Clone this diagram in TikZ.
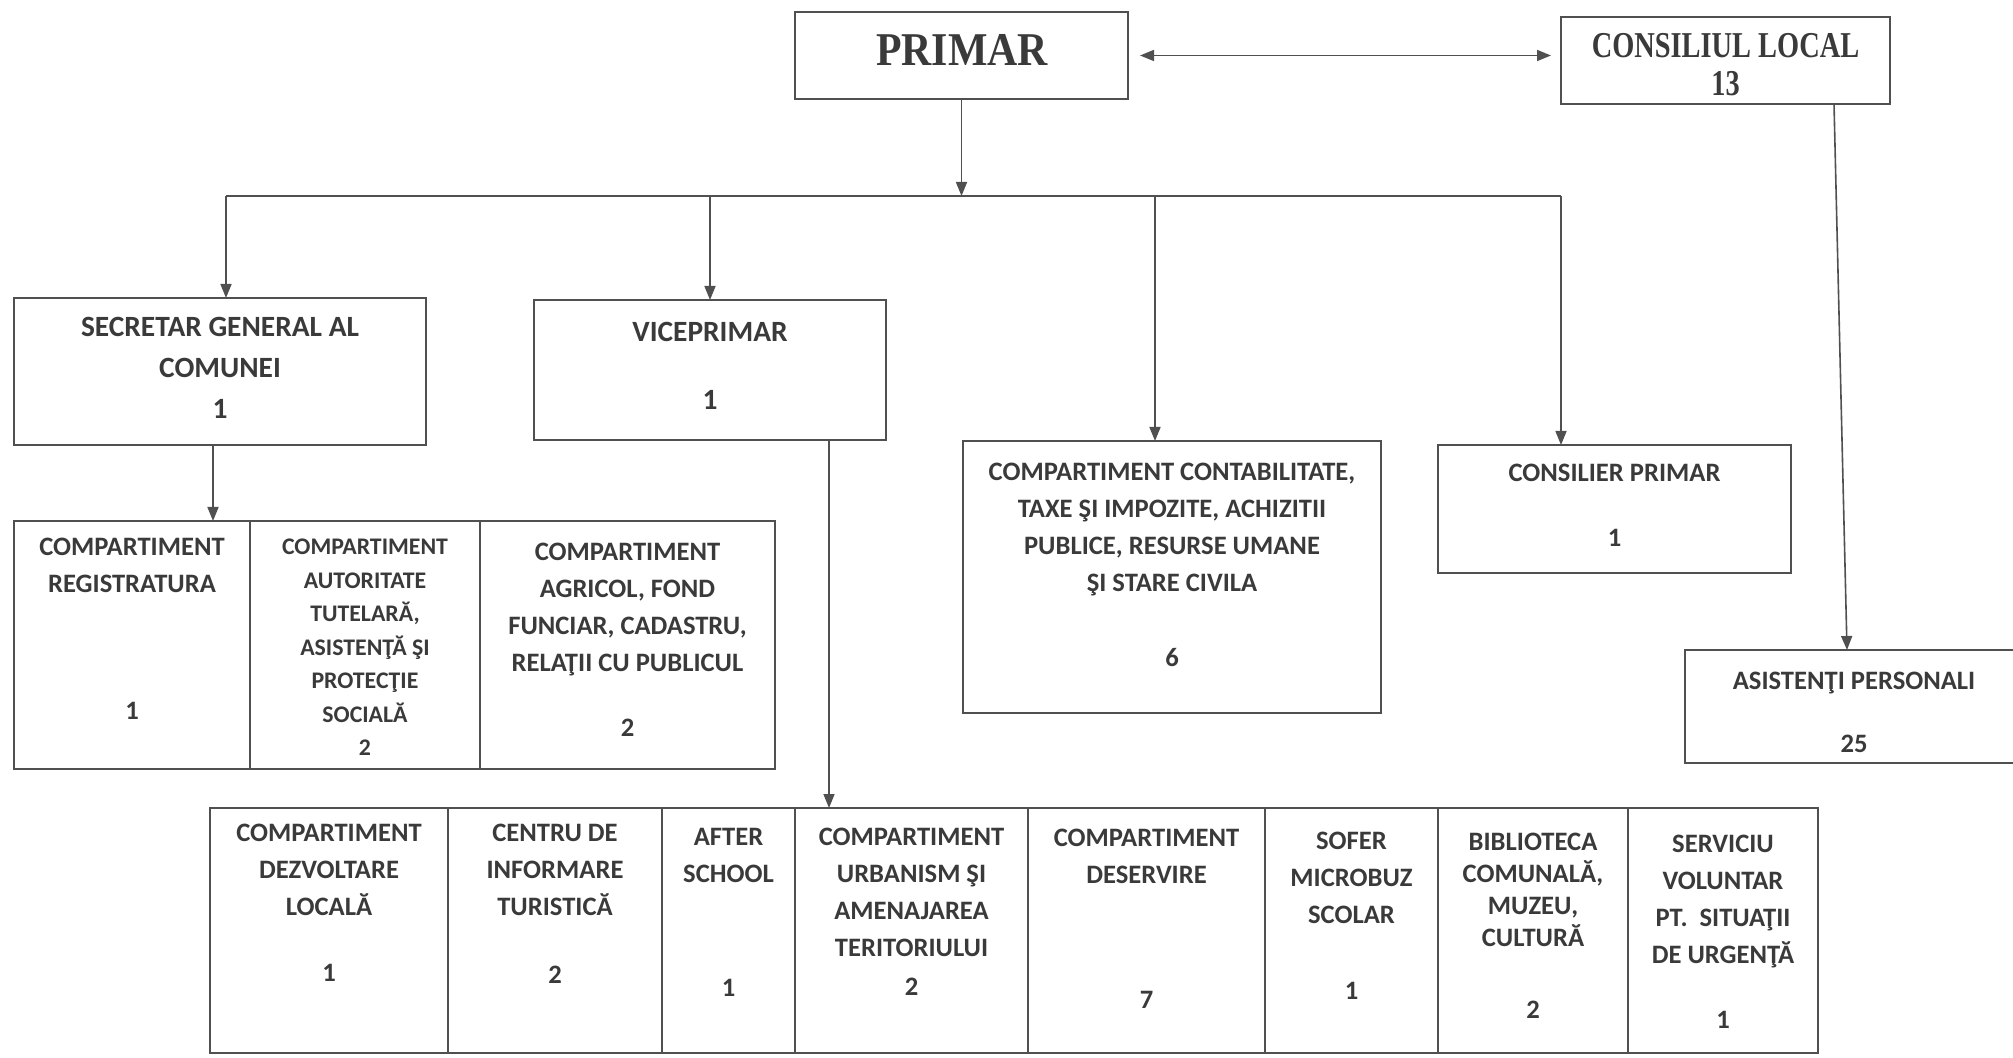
\documentclass[tikz,border=0pt]{standalone}
\usepackage{fontspec}
\setmainfont{Carlito}
\newfontfamily\timesfont{Liberation Serif}
\usepackage{graphicx}
\usetikzlibrary{positioning, fit, arrows.meta}
\definecolor{linegray}{HTML}{505050}
\definecolor{textgray}{HTML}{3A3A3A}

\begin{document}
\begin{tikzpicture}[
    x=0.5pt, y=-0.5pt,
    >={Triangle[length=7pt,width=5.5pt]},
    line width=0.8pt,
    color=linegray,
    box/.style={draw, line width=1pt, inner sep=0pt, outer sep=0pt},
    lbl/.style={anchor=north, align=center, inner sep=0pt, text=textgray,
        font=\bfseries\fontsize{13.3}{18.5}\selectfont},
    big/.style={lbl, font=\bfseries\fontsize{14.7}{20.5}\selectfont},
    small/.style={lbl, font=\bfseries\fontsize{11.9}{16.75}\selectfont}
]
    \fill[white] (0,0) rectangle (2013,1058);
    \useasboundingbox (0,0) rectangle (2013,1058);

    % primar and consiliul local
    \node[box, fit={(795,12) (1128,99)}] (primar) {};
    \node[lbl, font=\timesfont\bfseries\fontsize{23.5}{26}\selectfont] (primartxt) at (962,33.5) {\scalebox{0.89}[1]{PRIMAR}};
    \node[box, fit={(1561,17) (1890,104)}] (cl) {};
    \node[lbl, font=\timesfont\bfseries\fontsize{18.2}{19}\selectfont] (cltxt) at (1725.5,33) {\scalebox{0.78}[1]{CONSILIUL LOCAL}\\\scalebox{0.78}[1]{13}};

    % second level
    \node[box, fit={(14,298) (426,445)}] (sec) {};
    \node[big] (sectxt) at (220,316.6) {SECRETAR GENERAL AL\\COMUNEI\\1};
    \node[box, fit={(534,300) (886,440)}] (vice) {};
    \node[big] (vicetxt) at (710,321.6) {VICEPRIMAR\\[13.5pt]1};
    \node[box, fit={(963,441) (1381,713)}] (contab) {};
    \node[lbl] (contabtxt) at (1172,462.5) {COMPARTIMENT CONTABILITATE,\\TAXE ŞI IMPOZITE, ACHIZITII\\PUBLICE, RESURSE UMANE\\ŞI STARE CIVILA\\[19pt]6};
    \node[box, fit={(1438,445) (1791,573)}] (conspr) {};
    \node[lbl] (consprtxt) at (1614.5,463.5) {CONSILIER PRIMAR\\[14pt]1};
    \node[box, fit={(1685,650) (2023,763)}] (asist) {};
    \node[lbl] (asisttxt) at (1854,671.5) {ASISTENŢI PERSONALI\\[13pt]25};

    % compartments under the secretary
    \node[box, fit={(14,521) (250,769)}] (reg) {};
    \node[lbl] (regtxt) at (132,537.5) {COMPARTIMENT\\REGISTRATURA\\[45pt]1};
    \node[box, fit={(250,521) (480,769)}] (aut) {};
    \node[small] (auttxt) at (365,538.4) {COMPARTIMENT\\AUTORITATE\\TUTELARĂ,\\ASISTENŢĂ ŞI\\PROTECŢIE\\SOCIALĂ\\2};
    \node[box, fit={(480,521) (775,769)}] (agr) {};
    \node[lbl] (agrtxt) at (627.5,542.5) {COMPARTIMENT\\AGRICOL, FOND\\FUNCIAR, CADASTRU,\\RELAŢII CU PUBLICUL\\[14pt]2};

    % compartments under the vice mayor
    \node[box, fit={(210,808) (448,1053)}] (dez) {};
    \node[lbl] (deztxt) at (329,823.5) {COMPARTIMENT\\DEZVOLTARE\\LOCALĂ\\[14.5pt]1};
    \node[box, fit={(448,808) (662,1053)}] (cen) {};
    \node[lbl] (centxt) at (555,823.5) {CENTRU DE\\INFORMARE\\TURISTICĂ\\[15.5pt]2};
    \node[box, fit={(662,808) (795,1053)}] (aft) {};
    \node[lbl] (afttxt) at (728.5,827.5) {AFTER\\SCHOOL\\[38.5pt]1};
    \node[box, fit={(795,808) (1028,1053)}] (urb) {};
    \node[lbl] (urbtxt) at (911.5,827.5) {COMPARTIMENT\\URBANISM ŞI\\AMENAJAREA\\TERITORIULUI\\[1pt]2};
    \node[box, fit={(1028,808) (1265,1053)}] (des) {};
    \node[lbl] (destxt) at (1146.5,828.5) {COMPARTIMENT\\DESERVIRE\\[44pt]7};
    \node[box, fit={(1265,808) (1438,1053)}] (sof) {};
    \node[lbl] (softxt) at (1351.5,831.5) {SOFER\\MICROBUZ\\SCOLAR\\[19.5pt]1};
    \node[box, fit={(1438,808) (1628,1053)}] (bib) {};
    \node[lbl, font=\bfseries\fontsize{13.3}{16}\selectfont] (bibtxt) at (1533,832.5) {BIBLIOTECA\\COMUNALĂ,\\MUZEU,\\CULTURĂ\\[20pt]2};
    \node[box, fit={(1628,808) (1818,1053)}] (serv) {};
    \node[lbl] (servtxt) at (1723,834.5) {SERVICIU\\VOLUNTAR\\PT.~~SITUAŢII\\DE URGENŢĂ\\[14pt]1};

    % connectors
    \coordinate (busL) at (226,196);
    \coordinate (busC) at (1155,196);
    \coordinate (busR) at (1561,196);
    \coordinate (secdown) at ([xshift=-3.5pt]sec.south);
    \coordinate (vicedown) at ([xshift=59.5pt]vice.south);
    \coordinate (cldown) at ([xshift=54.25pt]cl.south);

    \draw[<->, shorten <=6pt, shorten >=5pt] (primar.east) -- (primar.east -| cl.west);
    \draw[->] (primar.south) -- (primar.south |- busL);
    \draw (busL) -- (busR);
    \draw[->] (busL) -- (busL |- sec.north);
    \draw[->] (vice.north |- busL) -- (vice.north);
    \draw[->] (busC) -- (busC |- contab.north);
    \draw[->] (busR) -- (busR |- conspr.north);
    \draw[->] (secdown) -- (secdown |- reg.north);
    \draw[->] (vicedown) -- (vicedown |- urb.north);
    \draw[->] (cldown) -- ([xshift=-3.5pt]asist.north);
\end{tikzpicture}
\end{document}
